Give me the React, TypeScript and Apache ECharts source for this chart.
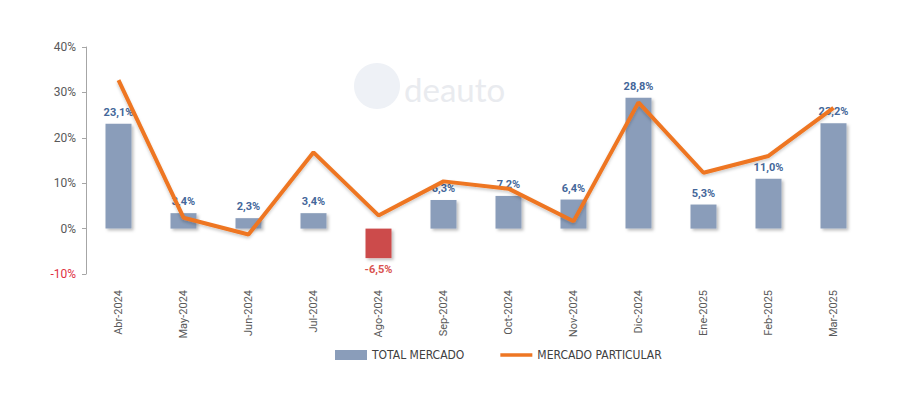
import React, { useEffect, useRef } from "react";
import * as echarts from "echarts";

const categories = ["Abr-2024", "May-2024", "Jun-2024", "Jul-2024", "Ago-2024", "Sep-2024", "Oct-2024", "Nov-2024", "Dic-2024", "Ene-2025", "Feb-2025", "Mar-2025"];
const totalMercado = [23.1, 3.4, 2.3, 3.4, -6.5, 6.3, 7.2, 6.4, 28.8, 5.3, 11.0, 23.2];
const mercadoParticular = [32.7, 2.4, -1.3, 16.8, 2.9, 10.4, 8.8, 1.6, 27.8, 12.3, 16.0, 26.6];
const yTicks = [-10, 0, 10, 20, 30, 40];

const fmt = (v: number) => v.toFixed(1).replace(".", ",") + "%";

export default function App() {
  const ref = useRef<HTMLDivElement>(null);
  useEffect(() => {
    document.body.style.margin = "0";
    if (!ref.current) return;
    const chart = echarts.init(ref.current, undefined, { renderer: "svg" });
    chart.setOption({
      animation: false,
      backgroundColor: "#ffffff",
      textStyle: { fontFamily: "Roboto, Arial, sans-serif" },
      graphic: [
        { type: "circle", shape: { cx: 377, cy: 86, r: 23 }, style: { fill: "#eef1f6" }, z: 0 },
        { type: "text", x: 404, y: 72, style: { text: "deauto", fill: "#e9ebef", font: "33px Lato, sans-serif" }, z: 0 },
      ],
      grid: { left: 86, right: 34, top: 47, bottom: 120 },
      legend: {
        bottom: 28,
        left: 330,
        itemGap: 36,
        itemWidth: 32,
        itemHeight: 10,
        textStyle: { fontSize: 12, color: "#404040", fontFamily: "'Liberation Sans Narrow', 'DejaVu Sans Condensed', Roboto, sans-serif" },
        data: [
          { name: "TOTAL MERCADO", icon: "rect" },
          { name: "MERCADO PARTICULAR", icon: "path://M0,0 L28,0 L28,3 L0,3 Z", itemStyle: { color: "#ee7623" } },
        ],
      },
      xAxis: {
        type: "category",
        data: categories,
        position: "bottom",
        axisLine: { show: false },
        axisTick: { show: false },
        axisLabel: { rotate: 90, fontSize: 11, color: "#595959", margin: 16 },
      },
      yAxis: {
        type: "value",
        min: -10,
        max: 40,
        interval: 10,
        axisLine: { show: true, lineStyle: { color: "#a6a6a6" } },
        axisTick: { show: true, length: 4, lineStyle: { color: "#a6a6a6" } },
        splitLine: { show: false },
        axisLabel: {
          fontSize: 12,
          margin: 10,
          formatter: (v: number) => (yTicks.includes(v) ? v + "%" : ""),
          color: (v: any) => (Number(v) < 0 ? "#e0303f" : "#595959"),
        },
      },
      series: [
        {
          name: "TOTAL MERCADO",
          type: "bar",
          barWidth: 26,
          itemStyle: { color: "#8a9dba" },
          data: totalMercado.map((v) => ({
            value: v,
            itemStyle: {
              color: v < 0 ? "#cc4c4c" : "#8a9dba",
              shadowBlur: 3,
              shadowOffsetX: 2,
              shadowOffsetY: 2,
              shadowColor: "rgba(0,0,0,0.25)",
            },
            label: {
              show: true,
              position: v < 0 ? "bottom" : "top",
              distance: 6,
              formatter: () => fmt(v),
              fontSize: 11,
              fontWeight: "bold",
              color: v < 0 ? "#d9534f" : "#44679a",
            },
          })),
          z: 2,
        },
        {
          name: "MERCADO PARTICULAR",
          type: "line",
          data: mercadoParticular,
          symbol: "none",
          color: "#ee7623",
          lineStyle: { width: 4, color: "#ee7623", shadowBlur: 3, shadowOffsetY: 2, shadowColor: "rgba(0,0,0,0.2)" },
          z: 3,
        },
      ],
    });
    return () => chart.dispose();
  }, []);
  return <div ref={ref} style={{ width: 900, height: 394 }} />;
}
